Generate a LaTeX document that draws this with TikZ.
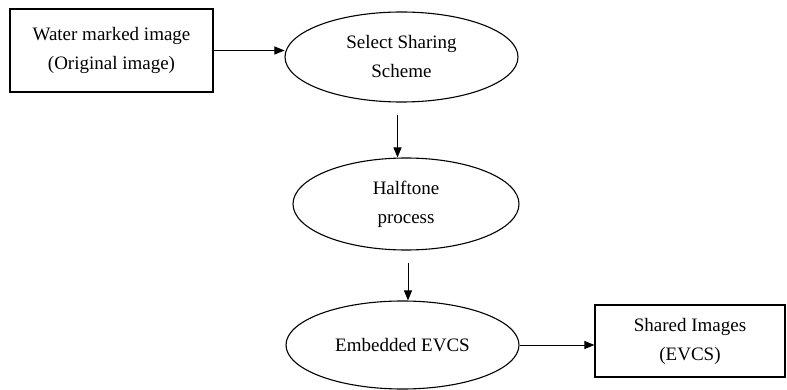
\documentclass[tikz,border=0pt]{standalone}
\usepackage{fontspec}
\setmainfont{Liberation Serif}
\usetikzlibrary{shapes.geometric, arrows.meta, positioning}

\begin{document}
\begin{tikzpicture}[
    x=1pt, y=-1pt,
    every node/.style={
        draw,
        line width=1.1pt,
        font=\fontsize{19}{29}\selectfont,
        inner sep=0pt,
        align=center
    },
    box/.style={
        rectangle
    },
    proc/.style={
        ellipse
    },
    arrow/.style={
        line width=1pt,
        -{Triangle[length=10pt,width=8pt]}
    }
]
\useasboundingbox (0,0) rectangle (787,390);

% Nodes
\node (water) [box, minimum width=203pt, minimum height=83pt] at (111.5,50.5) {Water marked image \\ (Original image)};
\node (sel) [proc, minimum width=233pt, minimum height=90pt] at (401.5,57) {Select Sharing \\ Scheme};
\node (half) [proc, minimum width=226pt, minimum height=92pt] at (406,204) {Halftone \\ process};
\node (embed) [proc, minimum width=233pt, minimum height=88pt] at (402.5,345) {Embedded EVCS};
\node (shared) [box, minimum width=190pt, minimum height=72pt] at (690,341) {Shared Images \\ (EVCS)};

% Arrows
\draw[arrow] (water.east) -- (water.east -| sel.west);
\foreach \from/\to/\dx in {sel/half/-4pt, half/embed/2pt} {
    \draw[arrow] ([xshift=\dx,yshift=-12pt]\from.south) -- ([xshift=\dx]\from.south |- \to.north);
}
\draw[arrow] (embed.east) -- (embed.east -| shared.west);
\end{tikzpicture}
\end{document}
